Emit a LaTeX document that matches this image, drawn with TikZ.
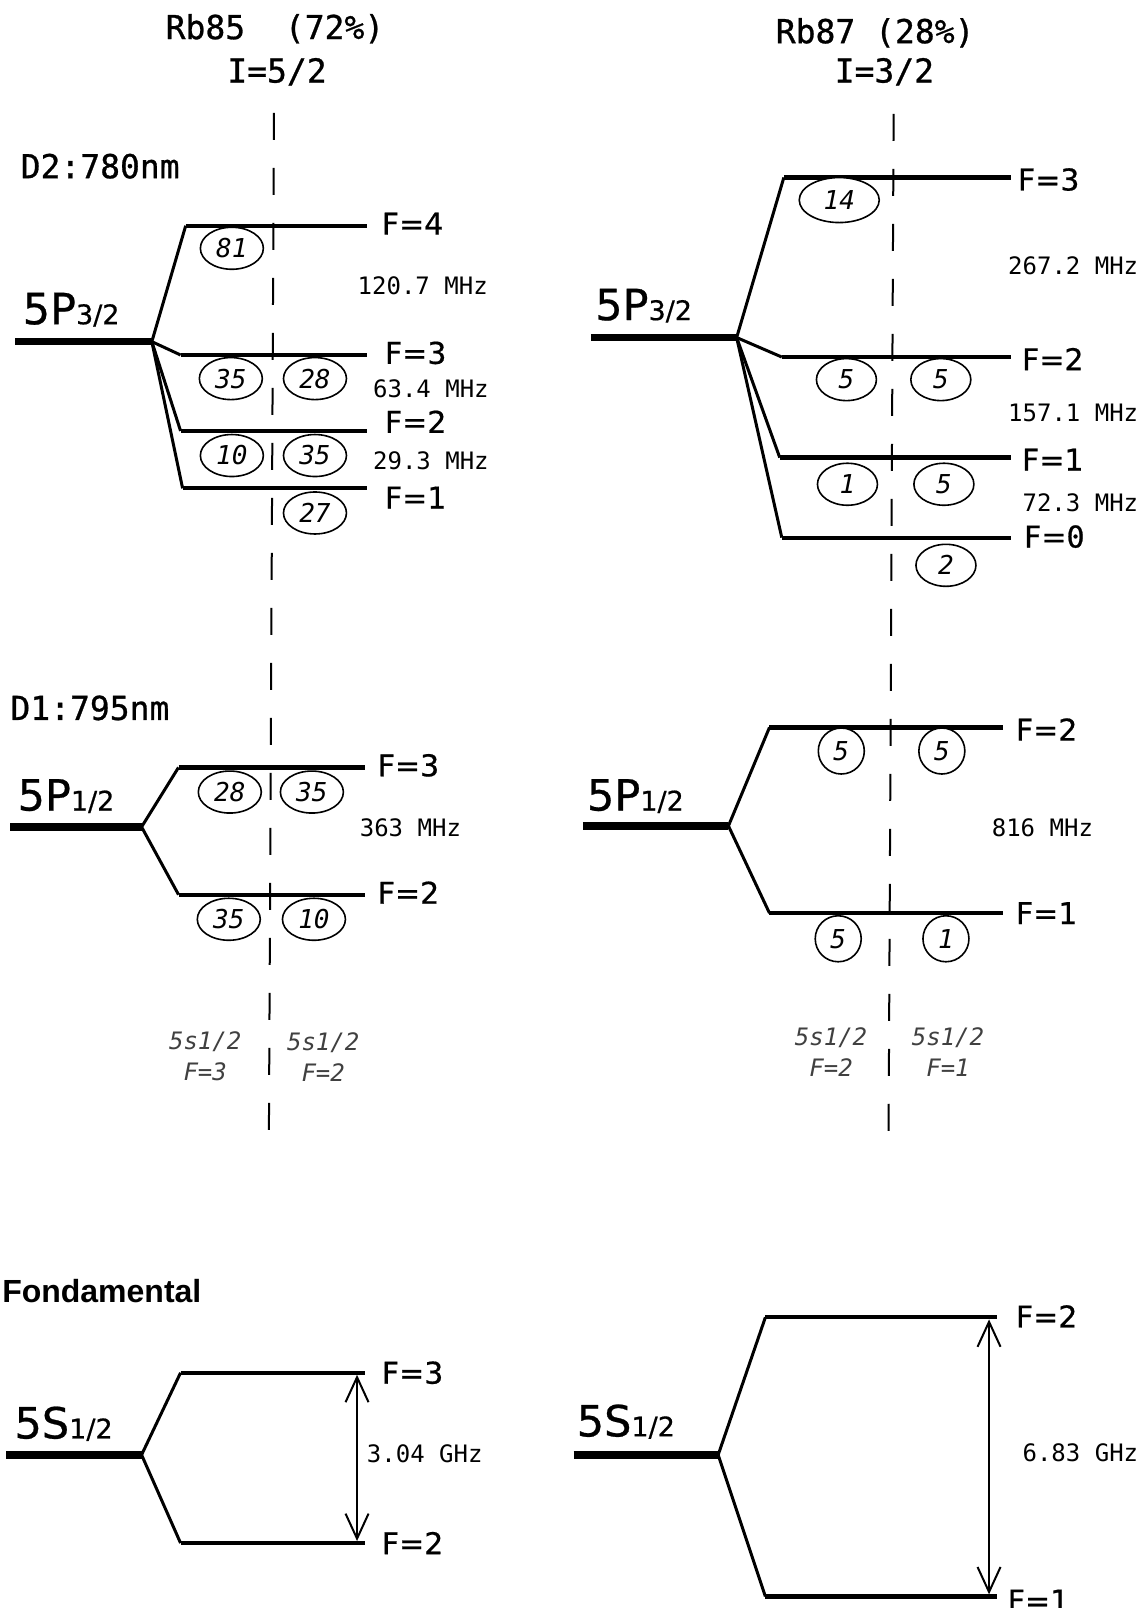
\documentclass[tikz,border=0pt]{standalone}
\usepackage{fontspec}
\setmainfont{DejaVu Sans}
\newfontfamily\monofont{DejaVu Sans Mono}
\newfontfamily\titlefont{DejaVu Sans Mono}[FakeBold=0.8]
\newfontfamily\levelfont{DejaVu Sans}[FakeBold=0.6]
\newfontfamily\headfont{Liberation Sans}
\usetikzlibrary{shapes.geometric,arrows.meta}

\tikzset{
  level/.style={line width=4.2pt},
  bare/.style={line width=7.5pt},
  branch/.style={line width=3pt, line join=round},
  axis/.style={line width=2pt, dash pattern=on 27pt off 28pt},
  flabel/.style={anchor=west, inner sep=0pt, font=\levelfont\fontsize{30}{30}\selectfont},
  jlabel/.style={anchor=base west, inner sep=0pt, font=\levelfont\fontsize{43}{43}\selectfont},
  freq/.style={inner sep=0pt, font=\monofont\fontsize{24}{24}\selectfont},
  title/.style={inner sep=0pt, font=\titlefont\fontsize{33}{33}\selectfont},
  pop/.style={draw, fill=white, ellipse, line width=1.6pt, minimum width=63pt, minimum height=42pt, inner sep=0pt, font=\monofont\itshape\fontsize{26}{26}\selectfont},
  popc/.style={pop, minimum width=46pt, minimum height=46pt},
  origin/.style={inner sep=0pt, align=center, text=black!75, font=\monofont\itshape\fontsize{24}{31}\selectfont},
  gap/.style={line width=2pt, {Straight Barb[length=25pt,width=23pt]}-{Straight Barb[length=25pt,width=23pt]}},
}
\newcommand{\jsub}[1]{{\fontsize{27}{27}\selectfont #1}}

\begin{document}
\begin{tikzpicture}[x=1.026pt,y=1.026pt,yscale=-1,xscale=1]
\useasboundingbox (0,0) rectangle (1114,1567.3);

% Titles
\node[title] (t85) at (268,28) {Rb85\ \ (72\%)};
\node[title] (i85) at (270,70) {I=5/2};
\node[title] (t87) at (853,32) {Rb87 (28\%)};
\node[title] (i87) at (862,70) {I=3/2};
\node[title, anchor=west] (d2) at (20,162) {D2:780nm};
\node[title, anchor=west] (d1) at (10,690) {D1:795nm};
\node[inner sep=0pt, anchor=west, font=\headfont\bfseries\fontsize{32}{32}\selectfont] (fond) at (2,1258) {Fondamental};

% Dashed axes
\draw[axis] (267,110) -- (262,1125);
\draw[axis] (871,111) -- (866,1125);

%%%%% Rb85 D2
\coordinate (a0) at (148,333);
\draw[bare] (15,333) -- (a0);
\draw[branch] (a0) -- (181,220);
\draw[branch] (a0) -- (176,346);
\draw[branch] (a0) -- (176,420);
\draw[branch] (a0) -- (178,476);
\draw[level] (181,220) -- (358,220);
\draw[level] (176,346) -- (358,346);
\draw[level] (176,420) -- (358,420);
\draw[level] (178,476) -- (358,476);
% Text Node
\node[jlabel] (j1) at (22,316) {5P\jsub{3/2}};
\node[flabel] (fa4) at (372,218) {F=4};
\node[flabel] (fa3) at (375,344) {F=3};
\node[flabel] (fa2) at (375,411) {F=2};
\node[flabel] (fa1) at (375,485) {F=1};
\node[freq] (da1) at (412,279) {120.7 MHz};
\node[freq] (da2) at (420,379) {63.4 MHz};
\node[freq] (da3) at (420,449) {29.3 MHz};
\node[pop] (pa1) at (226,242) {81};
\node[pop] (pa2) at (225,369) {35};
\node[pop] (pa3) at (307,369) {28};
\node[pop] (pa4) at (226,444) {10};
\node[pop] (pa5) at (307,444) {35};
\node[pop] (pa6) at (307,500) {27};

%%%%% Rb85 D1
\coordinate (b0) at (138,806);
\draw[bare] (10,806) -- (b0);
\draw[branch] (b0) -- (174,748);
\draw[branch] (b0) -- (174,872);
\draw[level] (174,748) -- (356,748);
\draw[level] (174,872) -- (356,872);
% Text Node
\node[jlabel] (j2) at (17,790) {5P\jsub{1/2}};
\node[flabel] (fb3) at (368,746) {F=3};
\node[flabel] (fb2) at (368,870) {F=2};
\node[freq] (db1) at (400,807) {363 MHz};
\node[pop] (pb1) at (224,772) {28};
\node[pop] (pb2) at (304,772) {35};
\node[pop] (pb3) at (223,896) {35};
\node[pop] (pb4) at (306,896) {10};
\node[origin] (ob1) at (200,1030) {5s1/2\\F=3};
\node[origin] (ob2) at (315,1030) {5s1/2\\F=2};

%%%%% Rb85 ground
\coordinate (c0) at (138,1418);
\draw[bare] (6,1418) -- (c0);
\draw[branch] (c0) -- (176,1338);
\draw[branch] (c0) -- (176,1504);
\draw[level] (176,1338) -- (356,1338);
\draw[level] (176,1504) -- (356,1504);
\coordinate (ct) at (348,1340);
\coordinate (cb) at (348,1502);
\draw[gap] (ct) -- (cb);
% Text Node
\node[jlabel] (j3) at (14,1402) {5S\jsub{1/2}};
\node[flabel] (fc3) at (372,1338) {F=3};
\node[flabel] (fc2) at (372,1504) {F=2};
\node[freq] (dc1) at (414,1417) {3.04 GHz};

%%%%% Rb87 D2
\coordinate (d0) at (718,329);
\draw[bare] (576,329) -- (d0);
\draw[branch] (d0) -- (764,173);
\draw[branch] (d0) -- (762,348);
\draw[branch] (d0) -- (760,446);
\draw[branch] (d0) -- (762,524);
\draw[level] (764,173) -- (985,173);
\draw[level] (762,348) -- (985,348);
\draw[level] (760,446) -- (985,446);
\draw[level] (762,524) -- (985,524);
% Text Node
\node[jlabel] (j4) at (580,312) {5P\jsub{3/2}};
\node[flabel] (fd3) at (992,175) {F=3};
\node[flabel] (fd2) at (996,350) {F=2};
\node[flabel] (fd1) at (996,448) {F=1};
\node[flabel] (fd0) at (998,523) {F=\titlefont 0};
\node[freq] (dd1) at (1046,259) {267.2 MHz};
\node[freq] (dd2) at (1046,402) {157.1 MHz};
\node[freq] (dd3) at (1053,490) {72.3 MHz};
\node[pop, minimum width=80pt, minimum height=45pt] (pd1) at (818,195) {14};
\node[pop, minimum width=60pt] (pd2) at (825,370) {5};
\node[pop, minimum width=60pt] (pd3) at (917,370) {5};
\node[pop, minimum width=60pt] (pd4) at (826,472) {1};
\node[pop, minimum width=60pt] (pd5) at (920,472) {5};
\node[pop, minimum width=60pt] (pd6) at (922,551) {2};

%%%%% Rb87 D1
\coordinate (e0) at (710,805);
\draw[bare] (568,805) -- (e0);
\draw[branch] (e0) -- (750,709);
\draw[branch] (e0) -- (750,890);
\draw[level] (750,709) -- (978,709);
\draw[level] (750,890) -- (978,890);
% Text Node
\node[jlabel] (j5) at (572,790) {5P\jsub{1/2}};
\node[flabel] (fe2) at (990,711) {F=2};
\node[flabel] (fe1) at (990,890) {F=1};
\node[freq] (de1) at (1016,807) {816 MHz};
\node[popc] (pe1) at (820,732) {5};
\node[popc] (pe2) at (918,732) {5};
\node[popc] (pe3) at (817,915) {5};
\node[popc] (pe4) at (922,915) {1};
\node[origin] (oe1) at (810,1025) {5s1/2\\F=2};
\node[origin] (oe2) at (924,1025) {5s1/2\\F=1};

%%%%% Rb87 ground
\coordinate (g0) at (700,1418);
\draw[bare] (559,1418) -- (g0);
\draw[branch] (g0) -- (746,1284);
\draw[branch] (g0) -- (746,1556);
\draw[level] (746,1284) -- (972,1284);
\draw[level] (746,1556) -- (972,1556);
\coordinate (gt) at (964,1286);
\coordinate (gb) at (964,1554);
\draw[gap] (gt) -- (gb);
% Text Node
\node[jlabel] (j6) at (562,1400) {5S\jsub{1/2}};
\node[flabel] (fg2) at (990,1283) {F=2};
\node[flabel] (fg1) at (982,1560) {F=1};
\node[freq] (dg1) at (1053,1416) {6.83 GHz};
\end{tikzpicture}
\end{document}
